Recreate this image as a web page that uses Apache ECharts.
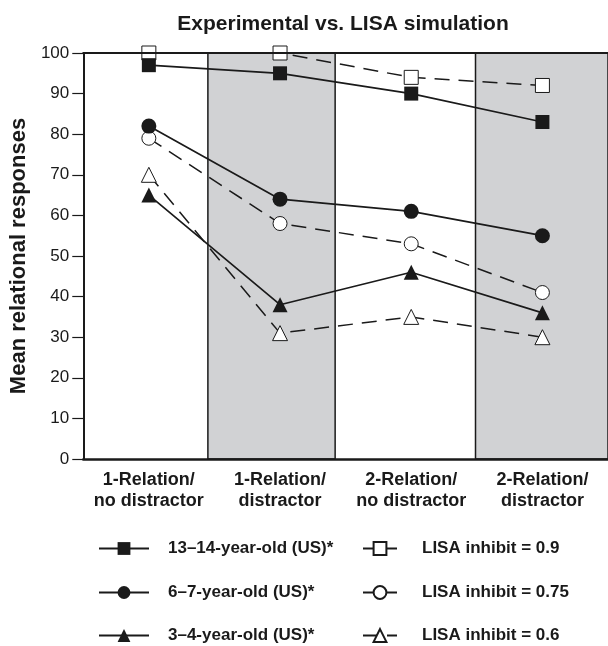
<!DOCTYPE html>
<html><head><meta charset="utf-8">
<script src="https://cdn.jsdelivr.net/npm/echarts@6/dist/echarts.min.js"></script>
<style>html,body{margin:0;padding:0;background:#fff}#c{width:608px;height:646px}</style>
</head><body><div id="c"></div>
<script>
const categories = ['1-Relation/\nno distractor','1-Relation/\ndistractor','2-Relation/\nno distractor','2-Relation/\ndistractor'];
const teen = [97, 95, 90, 83];
const lisa09 = [100, 100, 94, 92];
const child67 = [82, 64, 61, 55];
const lisa075 = [79, 58, 53, 41];
const child34 = [65, 38, 46, 36];
const lisa06 = [70, 31, 35, 30];
const yTicks = [0,10,20,30,40,50,60,70,80,90,100];
// shaded condition panels, in category-band units (0..4)
const shadedBands = [[0.95, 1.92], [2.99, 4]];

const ink = '#1a1a1a';
const font = 'Liberation Sans, Arial, Helvetica, sans-serif';
const chart = echarts.init(document.getElementById('c'));

function solid(name, data, symbol, size){
  return {name, type:'line', data, symbol, symbolSize:size, z:4,
    lineStyle:{color:ink, width:1.7},
    itemStyle:{color:ink, borderColor:ink, borderWidth:0}};
}
function dashed(name, data, symbol, size){
  return {name, type:'line', data, symbol, symbolSize:size, z:3,
    lineStyle:{color:ink, width:1.5, type:[15,9]},
    itemStyle:{color:'#fff', borderColor:ink, borderWidth:1}};
}
const names = ['13–14-year-old (US)*','6–7-year-old (US)*','3–4-year-old (US)*','LISA inhibit = 0.9','LISA inhibit = 0.75','LISA inhibit = 0.6'];
const series = [
  {name:'bands', type:'scatter', data:[], xAxisIndex:2, silent:true, z:1,
    markArea:{silent:true,
      itemStyle:{color:'#d1d2d4', borderColor:ink, borderWidth:1.5},
      data: shadedBands.map(b => [{xAxis:b[0]}, {xAxis:b[1]}])}},
  solid(names[0], teen, 'rect', 14),
  solid(names[1], child67, 'circle', 15),
  solid(names[2], child34, 'triangle', 15),
  dashed(names[3], lisa09, 'rect', 14),
  dashed(names[4], lisa075, 'circle', 14),
  dashed(names[5], lisa06, 'triangle', 15)
];
const rowY = [549, 593, 636];
function lg(name, left, top, w, pad){
  return {data:[name], left, top, itemWidth:w, itemHeight:16, itemGap:0, padding:0,
    textStyle:{fontFamily:font, fontWeight:'bold', fontSize:17, color:ink, padding:[0,0,0,pad]},
    selectedMode:false};
}
const legends = [
  lg(names[0], 98, rowY[0]-9, 50, 14), lg(names[1], 98, rowY[1]-9, 50, 14), lg(names[2], 98, rowY[2]-9, 50, 14),
  lg(names[3], 362, rowY[0]-9, 34, 20), lg(names[4], 362, rowY[1]-9, 34, 20), lg(names[5], 362, rowY[2]-9, 34, 20)
];

chart.setOption({
  animation:false,
  title:{text:'Experimental vs. LISA simulation', left:338, textAlign:'center', top:9,
    textStyle:{fontFamily:font, fontWeight:'bold', fontSize:21, color:ink}},
  legend: legends,
  grid:{left:80, right:0, top:53, bottom:187},
  xAxis:[{type:'category', data:categories, boundaryGap:true, z:5,
    axisLine:{lineStyle:{color:ink, width:2.5}},
    axisTick:{show:false},
    axisLabel:{fontFamily:font, fontWeight:'bold', fontSize:18, color:ink, lineHeight:21, margin:11, interval:0},
    splitLine:{show:false}
  },{type:'category', data:categories, position:'top', z:5,
    axisLine:{lineStyle:{color:ink, width:2}}, axisTick:{show:false}, axisLabel:{show:false}},
  {type:'value', min:0, max:4, show:false}],
  yAxis:{type:'value', min:0, max:100, interval:10, z:5,
    name:'Mean relational responses', nameLocation:'middle', nameGap:52,
    nameTextStyle:{fontFamily:font, fontWeight:'bold', fontSize:22, color:ink},
    axisLine:{show:true, lineStyle:{color:ink, width:2}},
    axisTick:{show:true, inside:false, length:11, lineStyle:{color:ink, width:1.2}},
    axisLabel:{fontFamily:font, fontSize:17, color:ink, margin:14,
      formatter:v => yTicks.includes(v) ? String(v) : ''},
    splitLine:{show:false}
  },
  series
});
</script></body></html>
